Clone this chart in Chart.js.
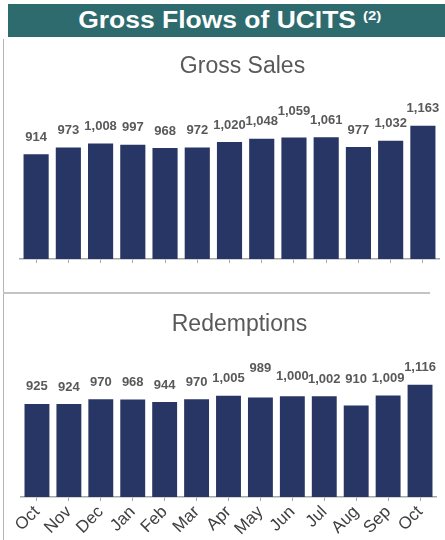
<!DOCTYPE html>
<html>
<head>
<meta charset="utf-8">
<script src="https://cdn.jsdelivr.net/npm/chart.js@4.4.1/dist/chart.umd.min.js"></script>
<style>
    html, body { margin: 0; padding: 0; background: #fff; }
    body { width: 445px; height: 540px; position: relative; overflow: hidden; font-family: "Liberation Sans", Arial, sans-serif; }
    #header {
        position: absolute; left: 8px; top: 4px; width: 437px; height: 33px;
        background: #2e6b6e; color: #fff; display: flex; align-items: center; justify-content: center;
    }
    #header span { display: inline-block; font-weight: bold; font-size: 23px; line-height: 33px; transform: scaleX(1.15); margin-left: 7px; }
    #header sup { font-size: 13px; vertical-align: 8px; line-height: 0; margin-left: 6px; }
    #vline { position: absolute; left: 3px; top: 39px; width: 1px; height: 501px; background: #b4b4b4; }
    #hline { position: absolute; left: 3px; top: 292px; width: 427px; height: 1.5px; background: #c4c4c4; }
    .box { position: absolute; left: 0; width: 460px; }
    #topBox { top: 40px; height: 250px; }
    #bottomBox { top: 295px; height: 250px; }
</style>
</head>
<body>
<div id="header"><span>Gross Flows of UCITS<sup>(2)</sup></span></div>
<div id="vline"></div>
<div id="hline"></div>
<div class="box" id="topBox"><canvas id="salesChart"></canvas></div>
<div class="box" id="bottomBox"><canvas id="redemptionsChart"></canvas></div>

<script>
    // --- Data ---
    const months = ['Oct', 'Nov', 'Dec', 'Jan', 'Feb', 'Mar', 'Apr', 'May', 'Jun', 'Jul', 'Aug', 'Sep', 'Oct'];
    const grossSales = [914, 973, 1008, 997, 968, 972, 1020, 1048, 1059, 1061, 977, 1032, 1163];
    const redemptions = [925, 924, 970, 968, 944, 970, 1005, 989, 1000, 1002, 910, 1009, 1116];

    // extra lift (px) for labels that were nudged up in the original
    const salesLabelLift = [0, 0, 0, 0, 0, 0, 0, 0, 9, 0, 0, 0, 0];
    const redemptionsLabelLift = [0, 0, 0, 0, 0, 0, 0, 12, 3, 0, 9, 0, 0];

    const barColor = '#283665';
    const axisColor = '#a8a8a8';
    const fontFamily = '"Liberation Sans", Arial, sans-serif';

    // --- Panel title, drawn a little right of the plot centre like the original ---
    const panelTitle = {
        id: 'panelTitle',
        afterDraw(chart, args, opts) {
            const ctx = chart.ctx;
            const area = chart.chartArea;
            ctx.save();
            ctx.font = '23px ' + fontFamily;
            ctx.fillStyle = '#595959';
            ctx.textAlign = 'center';
            ctx.textBaseline = 'alphabetic';
            ctx.fillText(opts.text, (area.left + area.right) / 2 + opts.shift, opts.baseline);
            ctx.restore();
        }
    };

    // --- Value labels above bars ---
    const valueLabels = {
        id: 'valueLabels',
        afterDatasetsDraw(chart, args, opts) {
            const ctx = chart.ctx;
            const meta = chart.getDatasetMeta(0);
            const values = chart.data.datasets[0].data;
            ctx.save();
            ctx.font = 'bold 13px ' + fontFamily;
            ctx.fillStyle = '#595959';
            ctx.textAlign = 'center';
            ctx.textBaseline = 'middle';
            meta.data.forEach((bar, i) => {
                const lift = (opts.lift && opts.lift[i]) || 0;
                ctx.fillText(values[i].toLocaleString('en-US'), bar.x, bar.y - 17 - lift);
            });
            ctx.restore();
        }
    };

    function makeChart(id, cfg) {
        const ctx = document.getElementById(id).getContext('2d');
        return new Chart(ctx, {
            type: 'bar',
            data: {
                labels: months,
                datasets: [{
                    data: cfg.values,
                    backgroundColor: barColor,
                    barPercentage: 0.78,
                    categoryPercentage: 1
                }]
            },
            options: {
                responsive: true,
                maintainAspectRatio: false,
                animation: false,
                layout: { padding: cfg.padding },
                plugins: {
                    legend: { display: false },
                    tooltip: { enabled: false },
                    title: { display: false },
                    panelTitle: { text: cfg.title, shift: cfg.titleShift, baseline: cfg.titleBaseline },
                    valueLabels: { lift: cfg.lift }
                },
                scales: {
                    x: {
                        afterFit: (scale) => { scale.height = cfg.axisHeight; },
                        grid: { display: true, drawOnChartArea: false, offset: false, tickLength: 4, color: axisColor },
                        border: { color: axisColor, width: 1.5 },
                        ticks: {
                            display: cfg.showLabels,
                            autoSkip: false,
                            color: '#404040',
                            font: { family: fontFamily, size: 17 },
                            maxRotation: 45,
                            minRotation: 45,
                            padding: 1
                        }
                    },
                    y: { display: false, min: 0, max: cfg.yMax }
                }
            },
            plugins: [panelTitle, valueLabels]
        });
    }

    makeChart('salesChart', {
        title: 'Gross Sales', values: grossSales, lift: salesLabelLift,
        yMax: 1500, showLabels: false, axisHeight: 4,
        titleShift: 13, titleBaseline: 33,
        padding: { left: 20, right: 21, top: 47, bottom: 27 }
    });
    makeChart('redemptionsChart', {
        title: 'Redemptions', values: redemptions, lift: redemptionsLabelLift,
        yMax: 1510, showLabels: true, axisHeight: 48,
        titleShift: 11, titleBaseline: 36,
        padding: { left: 21, right: 24, top: 50, bottom: 0 }
    });
</script>
</body>
</html>
